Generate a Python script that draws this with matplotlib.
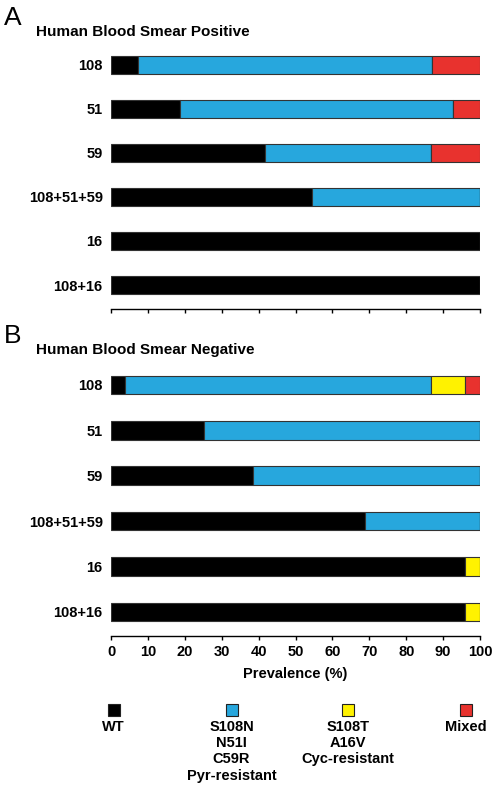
import numpy as np
import matplotlib.pyplot as plt
from matplotlib.lines import Line2D

plt.rcParams['font.family'] = ['Liberation Sans', 'DejaVu Sans']

# Genotype categories (top to bottom)
categories = ['108', '51', '59', '108+51+59', '16', '108+16']

# Prevalence (%) per category, panel A: blood smear positive
pos_wt = [7.3, 18.7, 41.7, 54.6, 100.0, 100.0]
pos_pyr = [79.8, 73.9, 45.0, 45.4, 0.0, 0.0]
pos_cyc = [0.0, 0.0, 0.0, 0.0, 0.0, 0.0]
pos_mixed = [12.9, 7.4, 13.3, 0.0, 0.0, 0.0]

# Panel B: blood smear negative
neg_wt = [3.8, 25.1, 38.4, 68.9, 96.0, 96.0]
neg_pyr = [82.8, 74.9, 61.6, 31.1, 0.0, 0.0]
neg_cyc = [9.4, 0.0, 0.0, 0.0, 4.0, 4.0]
neg_mixed = [4.0, 0.0, 0.0, 0.0, 0.0, 0.0]

series_names = ['WT', 'S108N\nN51I\nC59R\nPyr-resistant',
                'S108T\nA16V\nCyc-resistant', 'Mixed']
colors = ['#000000', '#27A7DD', '#FFF200', '#E8322E']
xticks = np.arange(0, 101, 10)

fig = plt.figure(figsize=(4.97, 7.92), dpi=100)


def panel(rect, title, letter, letter_y, series, ymax):
    ax = fig.add_axes(rect)
    y = np.arange(len(categories))
    left = np.zeros(len(categories))
    for vals, c in zip(series, colors):
        vals = np.array(vals)
        ax.barh(y, vals, left=left, height=0.41, color=c,
                edgecolor='#333333', linewidth=0.8)
        left += vals
    ax.set_xlim(0, 100)
    ax.set_ylim(ymax, -0.5)
    ax.set_yticks(y)
    ax.set_yticklabels(categories, fontsize=10.5, fontweight='bold')
    ax.tick_params(axis='y', length=0, pad=6)
    ax.set_xticks(xticks)
    ax.tick_params(axis='x', length=3, width=1)
    for s in ['top', 'right', 'left']:
        ax.spines[s].set_visible(False)
    ax.spines['bottom'].set_linewidth(1)
    fig.text(36 / 497, 1 - (letter_y + 14) / 792, title, fontsize=11,
             fontweight='bold', va='center')
    fig.text(4 / 497, 1 - letter_y / 792, letter, fontsize=19, va='center')
    return ax


axA = panel([111 / 497, 0.6098, 369 / 497, 0.3365],
            'Human Blood Smear Positive', 'A', 18,
            [pos_wt, pos_pyr, pos_cyc, pos_mixed], 5.544)
axA.set_xticklabels([])

axB = panel([111 / 497, 0.197, 369 / 497, 0.3456],
            'Human Blood Smear Negative', 'B', 336,
            [neg_wt, neg_pyr, neg_cyc, neg_mixed], 5.529)
axB.set_xticklabels([str(t) for t in xticks], fontsize=10.5, fontweight='bold')
axB.set_xlabel('Prevalence (%)', fontsize=10.5, fontweight='bold', labelpad=6)

# Legend row: swatch with label stacked underneath
legend_x = [113.5, 231.5, 348, 465.5]
for x, name, c in zip(legend_x, series_names, colors):
    fig.add_artist(Line2D([x / 497], [1 - 710 / 792], marker='s',
                          markersize=8, markerfacecolor=c,
                          markeredgecolor='#222222', markeredgewidth=0.8,
                          linestyle='none', transform=fig.transFigure))
    fig.text(x / 497, 1 - 720 / 792, name, fontsize=10.5, fontweight='bold',
             ha='center', va='top', linespacing=1.2)

fig.savefig('out.png', dpi=100)
